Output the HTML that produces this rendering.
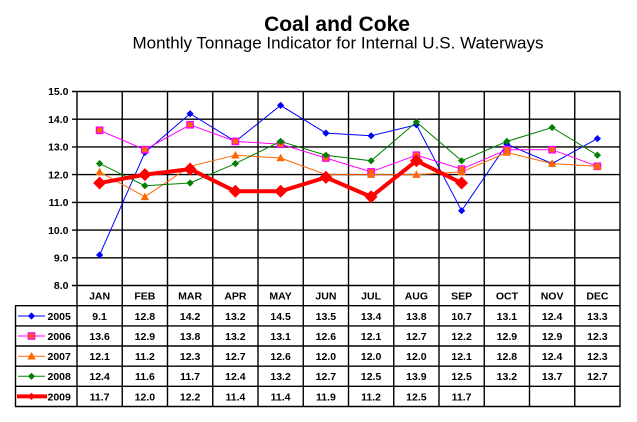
<!DOCTYPE html>
<html>
<head>
<meta charset="utf-8">
<style>
html,body{margin:0;padding:0;background:#fff;}
body{width:637px;height:422px;overflow:hidden;}
svg{display:block;}
text{font-family:"Liberation Sans",Arial,sans-serif;}
.ax{font-size:10.5px;font-weight:bold;fill:#000;}
.tb{font-size:10.5px;font-weight:bold;fill:#000;text-anchor:middle;}
</style>
</head>
<body>
<svg width="637" height="422" viewBox="0 0 637 422" xmlns="http://www.w3.org/2000/svg">
<defs>
  <path id="dm" d="M0,-3.6 L3.6,0 L0,3.6 L-3.6,0 Z"/>
  <path id="dl" d="M0,-6.5 L6.5,0 L0,6.5 L-6.5,0 Z"/>
  <path id="tr" d="M0,-4.2 L4.2,3.3 L-4.2,3.3 Z"/>
  <rect id="sq" x="-3.2" y="-3.2" width="6.4" height="6.4"/>
</defs>
<rect x="0" y="0" width="637" height="422" fill="#fff"/>

<!-- Titles -->
<text x="337" y="31" text-anchor="middle" font-size="21" font-weight="bold">Coal and Coke</text>
<text x="338" y="48.5" text-anchor="middle" font-size="17">Monthly Tonnage Indicator for Internal U.S. Waterways</text>

<!-- horizontal gridlines + ticks -->
<g stroke="#000" stroke-width="1.4" fill="none">
  <line x1="72" y1="91.5" x2="620.5" y2="91.5"/>
  <line x1="72" y1="119.2" x2="620.5" y2="119.2"/>
  <line x1="72" y1="146.9" x2="620.5" y2="146.9"/>
  <line x1="72" y1="174.6" x2="620.5" y2="174.6"/>
  <line x1="72" y1="202.4" x2="620.5" y2="202.4"/>
  <line x1="72" y1="230.1" x2="620.5" y2="230.1"/>
  <line x1="72" y1="257.8" x2="620.5" y2="257.8"/>
  <line x1="72" y1="285.5" x2="620.5" y2="285.5"/>
  <!-- table horizontal lines -->
  <line x1="15" y1="305.7" x2="620.5" y2="305.7"/>
  <line x1="15" y1="325.9" x2="620.5" y2="325.9"/>
  <line x1="15" y1="346.0" x2="620.5" y2="346.0"/>
  <line x1="15" y1="366.2" x2="620.5" y2="366.2"/>
  <line x1="15" y1="386.3" x2="620.5" y2="386.3"/>
  <line x1="15" y1="406.5" x2="620.5" y2="406.5"/>
  <line x1="15.5" y1="305.7" x2="15.5" y2="406.5"/>
  <!-- vertical lines -->
  <line x1="77" y1="91.5" x2="77" y2="406.5"/>
  <line x1="122.25" y1="91.5" x2="122.25" y2="406.5"/>
  <line x1="167.5" y1="91.5" x2="167.5" y2="406.5"/>
  <line x1="212.75" y1="91.5" x2="212.75" y2="406.5"/>
  <line x1="258" y1="91.5" x2="258" y2="406.5"/>
  <line x1="303.25" y1="91.5" x2="303.25" y2="406.5"/>
  <line x1="348.5" y1="91.5" x2="348.5" y2="406.5"/>
  <line x1="393.75" y1="91.5" x2="393.75" y2="406.5"/>
  <line x1="439" y1="91.5" x2="439" y2="406.5"/>
  <line x1="484.25" y1="91.5" x2="484.25" y2="406.5"/>
  <line x1="529.5" y1="91.5" x2="529.5" y2="406.5"/>
  <line x1="574.75" y1="91.5" x2="574.75" y2="406.5"/>
  <line x1="620" y1="91.5" x2="620" y2="406.5"/>
</g>

<!-- Y axis labels -->
<g class="ax" text-anchor="end">
  <text x="68.5" y="95.2">15.0</text>
  <text x="68.5" y="122.9">14.0</text>
  <text x="68.5" y="150.6">13.0</text>
  <text x="68.5" y="178.3">12.0</text>
  <text x="68.5" y="206.1">11.0</text>
  <text x="68.5" y="233.8">10.0</text>
  <text x="68.5" y="261.5">9.0</text>
  <text x="68.5" y="289.2">8.0</text>
</g>

<!-- 2005 -->
<polyline fill="none" stroke="#0000FF" stroke-width="1" points="99.6,255.0 144.9,152.5 190.1,113.7 235.4,141.4 280.6,105.4 325.9,133.1 371.1,135.8 416.4,124.8 461.6,210.7 506.9,144.2 552.1,163.6 597.4,138.6"/>
<g fill="#0000FF">
  <use href="#dm" x="99.6" y="255.0"/><use href="#dm" x="144.9" y="152.5"/><use href="#dm" x="190.1" y="113.7"/>
  <use href="#dm" x="235.4" y="141.4"/><use href="#dm" x="280.6" y="105.4"/><use href="#dm" x="325.9" y="133.1"/>
  <use href="#dm" x="371.1" y="135.8"/><use href="#dm" x="416.4" y="124.8"/><use href="#dm" x="461.6" y="210.7"/>
  <use href="#dm" x="506.9" y="144.2"/><use href="#dm" x="552.1" y="163.6"/><use href="#dm" x="597.4" y="138.6"/>
</g>

<!-- 2006 -->
<polyline fill="none" stroke="#FF00FF" stroke-width="1" points="99.6,130.3 144.9,149.7 190.1,124.8 235.4,141.4 280.6,144.2 325.9,158.0 371.1,171.9 416.4,155.2 461.6,169.1 506.9,149.7 552.1,149.7 597.4,166.3"/>
<g fill="#FF6600" stroke="#FF00FF" stroke-width="1.3">
  <use href="#sq" x="99.6" y="130.3"/><use href="#sq" x="144.9" y="149.7"/><use href="#sq" x="190.1" y="124.8"/>
  <use href="#sq" x="235.4" y="141.4"/><use href="#sq" x="280.6" y="144.2"/><use href="#sq" x="325.9" y="158.0"/>
  <use href="#sq" x="371.1" y="171.9"/><use href="#sq" x="416.4" y="155.2"/><use href="#sq" x="461.6" y="169.1"/>
  <use href="#sq" x="506.9" y="149.7"/><use href="#sq" x="552.1" y="149.7"/><use href="#sq" x="597.4" y="166.3"/>
</g>

<!-- 2007 -->
<polyline fill="none" stroke="#FF6600" stroke-width="1" points="99.6,171.9 144.9,196.8 190.1,166.3 235.4,155.2 280.6,158.0 325.9,174.6 371.1,174.6 416.4,174.6 461.6,171.9 506.9,152.5 552.1,163.6 597.4,166.3"/>
<g fill="#FF6600">
  <use href="#tr" x="99.6" y="171.9"/><use href="#tr" x="144.9" y="196.8"/><use href="#tr" x="190.1" y="166.3"/>
  <use href="#tr" x="235.4" y="155.2"/><use href="#tr" x="280.6" y="158.0"/><use href="#tr" x="325.9" y="174.6"/>
  <use href="#tr" x="371.1" y="174.6"/><use href="#tr" x="416.4" y="174.6"/><use href="#tr" x="461.6" y="171.9"/>
  <use href="#tr" x="506.9" y="152.5"/><use href="#tr" x="552.1" y="163.6"/><use href="#tr" x="597.4" y="166.3"/>
</g>

<!-- 2008 -->
<polyline fill="none" stroke="#008000" stroke-width="1" points="99.6,163.6 144.9,185.7 190.1,183.0 235.4,163.6 280.6,141.4 325.9,155.2 371.1,160.8 416.4,122.0 461.6,160.8 506.9,141.4 552.1,127.5 597.4,155.2"/>
<g fill="#008000">
  <use href="#dm" x="99.6" y="163.6"/><use href="#dm" x="144.9" y="185.7"/><use href="#dm" x="190.1" y="183.0"/>
  <use href="#dm" x="235.4" y="163.6"/><use href="#dm" x="280.6" y="141.4"/><use href="#dm" x="325.9" y="155.2"/>
  <use href="#dm" x="371.1" y="160.8"/><use href="#dm" x="416.4" y="122.0"/><use href="#dm" x="461.6" y="160.8"/>
  <use href="#dm" x="506.9" y="141.4"/><use href="#dm" x="552.1" y="127.5"/><use href="#dm" x="597.4" y="155.2"/>
</g>

<!-- 2009 -->
<polyline fill="none" stroke="#FF0000" stroke-width="4" stroke-linejoin="round" points="99.6,183.0 144.9,174.6 190.1,169.1 235.4,191.3 280.6,191.3 325.9,177.4 371.1,196.8 416.4,160.8 461.6,183.0"/>
<g fill="#FF0000">
  <use href="#dl" x="99.6" y="183.0"/><use href="#dl" x="144.9" y="174.6"/><use href="#dl" x="190.1" y="169.1"/>
  <use href="#dl" x="235.4" y="191.3"/><use href="#dl" x="280.6" y="191.3"/><use href="#dl" x="325.9" y="177.4"/>
  <use href="#dl" x="371.1" y="196.8"/><use href="#dl" x="416.4" y="160.8"/><use href="#dl" x="461.6" y="183.0"/>
</g>

<!-- Legend column -->
<line x1="18" y1="316" x2="45" y2="316" stroke="#0000FF" stroke-width="1"/>
<use href="#dm" x="31.5" y="316" fill="#0000FF"/>
<line x1="18" y1="336" x2="45" y2="336" stroke="#FF00FF" stroke-width="1"/>
<use href="#sq" x="31.5" y="336" fill="#FF6600" stroke="#FF00FF" stroke-width="1.3"/>
<line x1="18" y1="356.2" x2="45" y2="356.2" stroke="#FF6600" stroke-width="1"/>
<use href="#tr" x="31.5" y="356.2" fill="#FF6600"/>
<line x1="18" y1="376.3" x2="45" y2="376.3" stroke="#008000" stroke-width="1"/>
<use href="#dm" x="31.5" y="376.3" fill="#008000"/>
<line x1="17" y1="396.4" x2="47" y2="396.4" stroke="#FF0000" stroke-width="4"/>
<use href="#dm" x="31.5" y="396.4" fill="#FF0000"/>

<g class="ax">
  <text x="47.5" y="319.8">2005</text>
  <text x="47.5" y="339.9">2006</text>
  <text x="47.5" y="360.1">2007</text>
  <text x="47.5" y="380.2">2008</text>
  <text x="47.5" y="400.3">2009</text>
</g>

<!-- Header -->
<g class="tb">
  <text x="99.6" y="299.3">JAN</text>
  <text x="144.9" y="299.3">FEB</text>
  <text x="190.1" y="299.3">MAR</text>
  <text x="235.4" y="299.3">APR</text>
  <text x="280.6" y="299.3">MAY</text>
  <text x="325.9" y="299.3">JUN</text>
  <text x="371.1" y="299.3">JUL</text>
  <text x="416.4" y="299.3">AUG</text>
  <text x="461.6" y="299.3">SEP</text>
  <text x="506.9" y="299.3">OCT</text>
  <text x="552.1" y="299.3">NOV</text>
  <text x="597.4" y="299.3">DEC</text>
</g>

<!-- 2005 row -->
<g class="tb">
  <text x="99.6" y="319.8">9.1</text><text x="144.9" y="319.8">12.8</text><text x="190.1" y="319.8">14.2</text>
  <text x="235.4" y="319.8">13.2</text><text x="280.6" y="319.8">14.5</text><text x="325.9" y="319.8">13.5</text>
  <text x="371.1" y="319.8">13.4</text><text x="416.4" y="319.8">13.8</text><text x="461.6" y="319.8">10.7</text>
  <text x="506.9" y="319.8">13.1</text><text x="552.1" y="319.8">12.4</text><text x="597.4" y="319.8">13.3</text>
</g>
<!-- 2006 row -->
<g class="tb">
  <text x="99.6" y="339.9">13.6</text><text x="144.9" y="339.9">12.9</text><text x="190.1" y="339.9">13.8</text>
  <text x="235.4" y="339.9">13.2</text><text x="280.6" y="339.9">13.1</text><text x="325.9" y="339.9">12.6</text>
  <text x="371.1" y="339.9">12.1</text><text x="416.4" y="339.9">12.7</text><text x="461.6" y="339.9">12.2</text>
  <text x="506.9" y="339.9">12.9</text><text x="552.1" y="339.9">12.9</text><text x="597.4" y="339.9">12.3</text>
</g>
<!-- 2007 row -->
<g class="tb">
  <text x="99.6" y="360.1">12.1</text><text x="144.9" y="360.1">11.2</text><text x="190.1" y="360.1">12.3</text>
  <text x="235.4" y="360.1">12.7</text><text x="280.6" y="360.1">12.6</text><text x="325.9" y="360.1">12.0</text>
  <text x="371.1" y="360.1">12.0</text><text x="416.4" y="360.1">12.0</text><text x="461.6" y="360.1">12.1</text>
  <text x="506.9" y="360.1">12.8</text><text x="552.1" y="360.1">12.4</text><text x="597.4" y="360.1">12.3</text>
</g>
<!-- 2008 row -->
<g class="tb">
  <text x="99.6" y="380.2">12.4</text><text x="144.9" y="380.2">11.6</text><text x="190.1" y="380.2">11.7</text>
  <text x="235.4" y="380.2">12.4</text><text x="280.6" y="380.2">13.2</text><text x="325.9" y="380.2">12.7</text>
  <text x="371.1" y="380.2">12.5</text><text x="416.4" y="380.2">13.9</text><text x="461.6" y="380.2">12.5</text>
  <text x="506.9" y="380.2">13.2</text><text x="552.1" y="380.2">13.7</text><text x="597.4" y="380.2">12.7</text>
</g>
<!-- 2009 row -->
<g class="tb">
  <text x="99.6" y="400.3">11.7</text><text x="144.9" y="400.3">12.0</text><text x="190.1" y="400.3">12.2</text>
  <text x="235.4" y="400.3">11.4</text><text x="280.6" y="400.3">11.4</text><text x="325.9" y="400.3">11.9</text>
  <text x="371.1" y="400.3">11.2</text><text x="416.4" y="400.3">12.5</text><text x="461.6" y="400.3">11.7</text>
</g>
</svg>
</body>
</html>
